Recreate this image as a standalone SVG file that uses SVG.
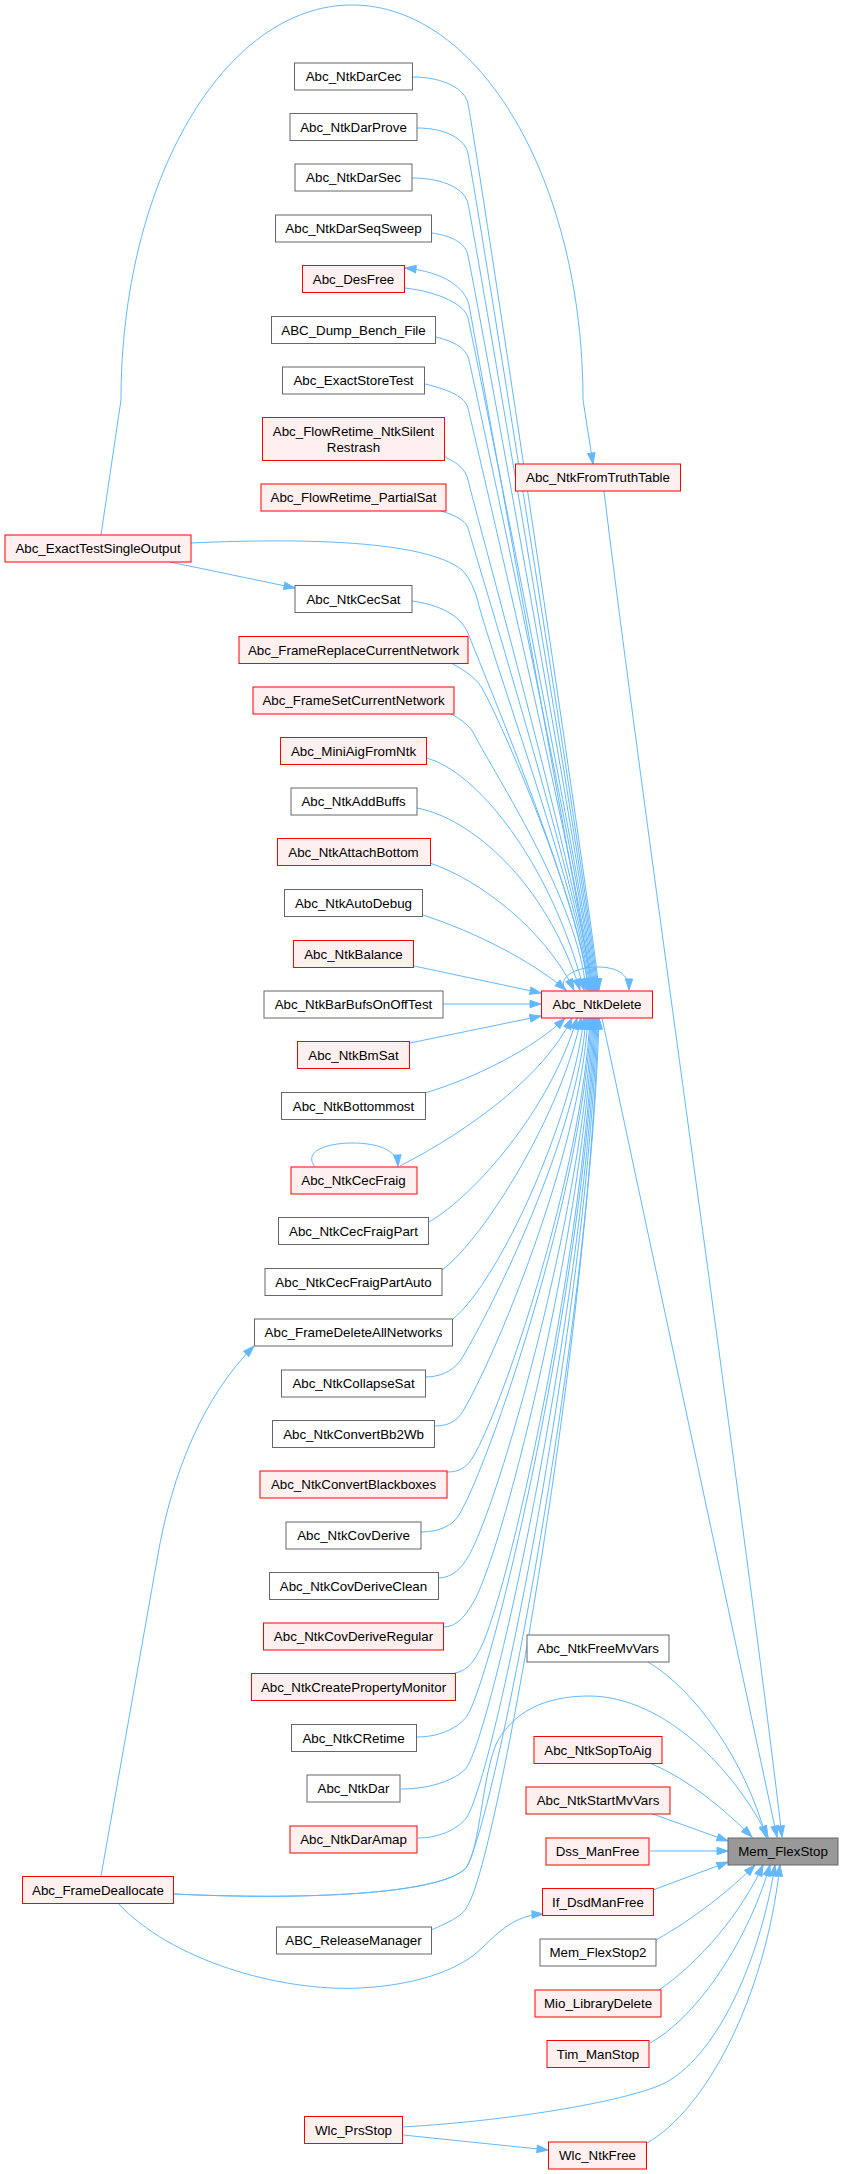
<svg xmlns="http://www.w3.org/2000/svg" width="841" height="2174" viewBox="0 0 841 2174">
<defs>
<marker id="a" markerUnits="userSpaceOnUse" markerWidth="12" markerHeight="9" refX="11" refY="4" orient="auto" overflow="visible">
<path d="M0,0.3 L11,4 L0,7.7 Z" fill="#63b8ff" stroke="#63b8ff" stroke-width="1"/>
</marker>
<style>
.n rect{fill:#ffffff;stroke:#666666;stroke-width:1}
.r rect{fill:#fff0f0;stroke:#ff0000;stroke-width:1}
.g rect{fill:#999999;stroke:#666666;stroke-width:1}
text{font-family:"Liberation Sans",Arial,sans-serif;font-size:13.33px;text-anchor:middle;fill:#000000}
#edges path{fill:none;stroke:#63b8ff;stroke-width:1;marker-end:url(#a)}
</style>
</defs>
<rect width="841" height="2174" fill="#ffffff"/>
<g id="edges">
<path d="M412.5,77 C445,77 466,90 468,104 C474,130 590,900 599,990"/>
<path d="M417,128 C447,128 466,140 468,154 C474,180 589,900 598,990"/>
<path d="M412,178 C445,178 466,190 468,204 C474,230 588,900 597,990"/>
<path d="M432,233 C452,236 466,243 468,256 C474,282 587,900 596,990"/>
<path d="M405,288 C440,292 465,305 468,318 C474,344 586,900 595,990"/>
<path d="M593,990 L469,305 C465,288 445,272 405,268"/>
<path d="M436,337 C455,342 466,348 469,360 C475,386 585,900 594,990"/>
<path d="M425,384 C450,390 465,397 468,408 C474,434 584,900 593,990"/>
<path d="M445,457 C458,463 466,470 468,480 C474,506 583,900 592,990"/>
<path d="M441,511 C455,515 465,520 468,528 C475,554 582,900 591,990"/>
<path d="M191,543 C300,538 425,540 462,570 C470,578 476,592 479,606 C500,680 580,900 590,990"/>
<path d="M412,601 C440,605 460,615 468,633 C480,665 580,900 589,990"/>
<path d="M451,663 C468,672 478,680 483,690 C500,720 580,900 588,990"/>
<path d="M451,714 C462,720 470,726 474,734 C495,775 578,900 586,990"/>
<path d="M426,758 C475,770 550,860 584,990"/>
<path d="M417,808 C470,818 545,880 580,990"/>
<path d="M430,863 C480,880 545,930 574,990"/>
<path d="M423,915 C475,932 530,960 566,990"/>
<path d="M414,966 L541,993"/>
<path d="M443,1004 L541,1004"/>
<path d="M410,1043 L541,1016"/>
<path d="M425,1093 C475,1078 535,1048 565,1018"/>
<path d="M400,1166 C470,1130 545,1075 572,1018"/>
<path d="M429,1222 C475,1195 550,1110 577,1018"/>
<path d="M442,1270 C485,1238 563,1110 581,1018"/>
<path d="M453,1319 C500,1280 572,1120 584,1018"/>
<path d="M425,1377 C444,1377 456,1368 462,1358 C492,1308 578,1137 586,1018"/>
<path d="M434,1426 C449,1426 457,1421 463,1411 C493,1361 580,1156 588,1018"/>
<path d="M447,1472 C460,1472 467,1467 473,1457 C503,1407 582,1172 590,1018"/>
<path d="M421,1532 C440,1532 453,1525 459,1515 C489,1465 583,1192 591,1018"/>
<path d="M438,1578 C453,1578 462,1567 468,1557 C498,1507 584,1207 592,1018"/>
<path d="M444,1627 C458,1627 467,1613 473,1603 C503,1553 585,1223 593,1018"/>
<path d="M455,1673 C466,1671 473,1663 478,1653 C508,1603 586,1240 594,1018"/>
<path d="M417,1737 C442,1737 460,1726 467,1716 C497,1666 587,1262 595,1018"/>
<path d="M401,1789 C435,1789 460,1777 467,1767 C497,1717 588,1280 596,1018"/>
<path d="M418,1838 C442,1838 460,1827 467,1817 C497,1767 589,1298 597,1018"/>
<path d="M431,1930 C450,1922 464,1915 468,1905 C498,1855 590,1328 598,1018"/>
<path d="M174,1894 C300,1900 440,1895 466,1868 C496,1818 591,1316 599,1018"/>
<path d="M566,991 C556,978 575,967 597,967 C616,967 629,973 629,990"/>
<path d="M315,1167 C302,1150 330,1143 352,1143 C376,1143 397,1149 398,1166"/>
<path d="M101,535 L121,400 C121,182 224,5 352,5 C480,5 583,182 583,400 L593,464"/>
<path d="M170,562 L295,588"/>
<path d="M101,1876 L157,1560 C172,1470 205,1395 254,1346"/>
<path d="M174,1894 C300,1900 440,1895 466,1868 C480,1850 482,1775 497,1742 C518,1705 555,1696 590,1696 C665,1697 735,1770 768,1837"/>
<path d="M118,1903 C170,1960 280,1992 360,1988 C420,1985 462,1968 482,1948 C505,1925 520,1915 543,1914"/>
<path d="M602,1018 L777,1837"/>
<path d="M604,491 C640,790 745,1520 782,1837"/>
<path d="M648,1662 C695,1690 745,1760 766,1837"/>
<path d="M650,1763 C690,1780 725,1810 752,1837"/>
<path d="M650,1813 L728,1841"/>
<path d="M650,1851 L728,1851"/>
<path d="M653,1890 L728,1862"/>
<path d="M656,1940 C695,1918 730,1890 755,1865"/>
<path d="M659,1990 C700,1962 742,1912 763,1865"/>
<path d="M650,2043 C692,2020 745,1950 770,1865"/>
<path d="M403,2127 C520,2120 630,2100 665,2083 C722,2052 762,1950 775,1865"/>
<path d="M647,2143 C705,2110 765,2000 780,1865"/>
<path d="M403,2135 L548,2150"/>
</g>
<g id="n1" class="n"><rect x="294.5" y="63" width="118" height="27"/><text x="353.5" y="81">Abc_NtkDarCec</text></g>
<g id="n2" class="n"><rect x="290" y="113.5" width="127" height="27"/><text x="353.5" y="131.5">Abc_NtkDarProve</text></g>
<g id="n3" class="n"><rect x="295" y="164" width="117" height="27"/><text x="353.5" y="182">Abc_NtkDarSec</text></g>
<g id="n4" class="n"><rect x="275.5" y="215" width="156" height="27"/><text x="353.5" y="233">Abc_NtkDarSeqSweep</text></g>
<g id="n5" class="r"><rect x="302.5" y="265.5" width="102" height="27"/><text x="353.5" y="283.5">Abc_DesFree</text></g>
<g id="n6" class="n"><rect x="271.5" y="316.5" width="164" height="27"/><text x="353.5" y="334.5">ABC_Dump_Bench_File</text></g>
<g id="n7" class="n"><rect x="282.5" y="367" width="142" height="27"/><text x="353.5" y="385">Abc_ExactStoreTest</text></g>
<g id="n8" class="r"><rect x="262.5" y="417.5" width="182" height="43"/><text x="353.5" y="436">Abc_FlowRetime_NtkSilent</text><text x="353.5" y="452">Restrash</text></g>
<g id="n9" class="r"><rect x="261" y="484" width="185" height="27"/><text x="353.5" y="502">Abc_FlowRetime_PartialSat</text></g>
<g id="n10" class="n"><rect x="295" y="585.5" width="117" height="27"/><text x="353.5" y="603.5">Abc_NtkCecSat</text></g>
<g id="n11" class="r"><rect x="239" y="636.5" width="229" height="27"/><text x="353.5" y="654.5">Abc_FrameReplaceCurrentNetwork</text></g>
<g id="n12" class="r"><rect x="253" y="687" width="201" height="27"/><text x="353.5" y="705">Abc_FrameSetCurrentNetwork</text></g>
<g id="n13" class="r"><rect x="280.5" y="737.5" width="146" height="27"/><text x="353.5" y="755.5">Abc_MiniAigFromNtk</text></g>
<g id="n14" class="n"><rect x="291" y="788" width="126" height="27"/><text x="353.5" y="806">Abc_NtkAddBuffs</text></g>
<g id="n15" class="r"><rect x="277.5" y="838.5" width="153" height="27"/><text x="353.5" y="856.5">Abc_NtkAttachBottom</text></g>
<g id="n16" class="n"><rect x="284.5" y="889.5" width="138" height="27"/><text x="353.5" y="907.5">Abc_NtkAutoDebug</text></g>
<g id="n17" class="r"><rect x="293.5" y="940.5" width="120" height="27"/><text x="353.5" y="958.5">Abc_NtkBalance</text></g>
<g id="n18" class="n"><rect x="264" y="991" width="179" height="27"/><text x="353.5" y="1009">Abc_NtkBarBufsOnOffTest</text></g>
<g id="n19" class="r"><rect x="297.5" y="1041.5" width="112" height="27"/><text x="353.5" y="1059.5">Abc_NtkBmSat</text></g>
<g id="n20" class="n"><rect x="281.5" y="1092.5" width="144" height="27"/><text x="353.5" y="1110.5">Abc_NtkBottommost</text></g>
<g id="n21" class="r"><rect x="291" y="1167" width="126" height="27"/><text x="353.5" y="1185">Abc_NtkCecFraig</text></g>
<g id="n22" class="n"><rect x="278.5" y="1217.5" width="150" height="27"/><text x="353.5" y="1235.5">Abc_NtkCecFraigPart</text></g>
<g id="n23" class="n"><rect x="265" y="1268.5" width="177" height="27"/><text x="353.5" y="1286.5">Abc_NtkCecFraigPartAuto</text></g>
<g id="n24" class="n"><rect x="254.5" y="1319" width="198" height="27"/><text x="353.5" y="1337">Abc_FrameDeleteAllNetworks</text></g>
<g id="n25" class="n"><rect x="281.5" y="1370" width="144" height="27"/><text x="353.5" y="1388">Abc_NtkCollapseSat</text></g>
<g id="n26" class="n"><rect x="272.5" y="1420.5" width="162" height="27"/><text x="353.5" y="1438.5">Abc_NtkConvertBb2Wb</text></g>
<g id="n27" class="r"><rect x="260" y="1471" width="187" height="27"/><text x="353.5" y="1489">Abc_NtkConvertBlackboxes</text></g>
<g id="n28" class="n"><rect x="286" y="1522" width="135" height="27"/><text x="353.5" y="1540">Abc_NtkCovDerive</text></g>
<g id="n29" class="n"><rect x="269.5" y="1572.5" width="169" height="27"/><text x="353.5" y="1590.5">Abc_NtkCovDeriveClean</text></g>
<g id="n30" class="r"><rect x="263.5" y="1623" width="180" height="27"/><text x="353.5" y="1641">Abc_NtkCovDeriveRegular</text></g>
<g id="n31" class="r"><rect x="251.5" y="1673.5" width="204" height="27"/><text x="353.5" y="1691.5">Abc_NtkCreatePropertyMonitor</text></g>
<g id="n32" class="n"><rect x="291.5" y="1724.5" width="125" height="27"/><text x="353.5" y="1742.5">Abc_NtkCRetime</text></g>
<g id="n33" class="n"><rect x="307" y="1775" width="93" height="27"/><text x="353.5" y="1793">Abc_NtkDar</text></g>
<g id="n34" class="r"><rect x="290" y="1826" width="127" height="27"/><text x="353.5" y="1844">Abc_NtkDarAmap</text></g>
<g id="n35" class="n"><rect x="276.5" y="1927" width="155" height="27"/><text x="353.5" y="1945">ABC_ReleaseManager</text></g>
<g id="n36" class="r"><rect x="304.5" y="2116.5" width="98" height="27"/><text x="353.5" y="2134.5">Wlc_PrsStop</text></g>
<g id="n37" class="r"><rect x="5" y="535" width="186" height="27"/><text x="98" y="553">Abc_ExactTestSingleOutput</text></g>
<g id="n38" class="r"><rect x="22.5" y="1876.5" width="151" height="27"/><text x="98" y="1894.5">Abc_FrameDeallocate</text></g>
<g id="n39" class="r"><rect x="515.5" y="464" width="165" height="27"/><text x="598" y="482">Abc_NtkFromTruthTable</text></g>
<g id="n40" class="r"><rect x="541.5" y="991" width="111" height="27"/><text x="597" y="1009">Abc_NtkDelete</text></g>
<g id="n41" class="n"><rect x="527" y="1635" width="142" height="27"/><text x="598" y="1653">Abc_NtkFreeMvVars</text></g>
<g id="n42" class="r"><rect x="534" y="1736.5" width="128" height="27"/><text x="598" y="1754.5">Abc_NtkSopToAig</text></g>
<g id="n43" class="r"><rect x="526" y="1787" width="144" height="27"/><text x="598" y="1805">Abc_NtkStartMvVars</text></g>
<g id="n44" class="r"><rect x="546" y="1838" width="103" height="27"/><text x="597.5" y="1856">Dss_ManFree</text></g>
<g id="n45" class="r"><rect x="542.5" y="1888.5" width="111" height="27"/><text x="598" y="1906.5">If_DsdManFree</text></g>
<g id="n46" class="n"><rect x="540" y="1939" width="116" height="27"/><text x="598" y="1957">Mem_FlexStop2</text></g>
<g id="n47" class="r"><rect x="535" y="1990" width="126" height="27"/><text x="598" y="2008">Mio_LibraryDelete</text></g>
<g id="n48" class="r"><rect x="547" y="2040.5" width="102" height="27"/><text x="598" y="2058.5">Tim_ManStop</text></g>
<g id="n49" class="r"><rect x="548.5" y="2142" width="98" height="27"/><text x="597.5" y="2160">Wlc_NtkFree</text></g>
<g id="n50" class="g"><rect x="728" y="1838" width="110" height="27"/><text x="783" y="1856">Mem_FlexStop</text></g>
</svg>
